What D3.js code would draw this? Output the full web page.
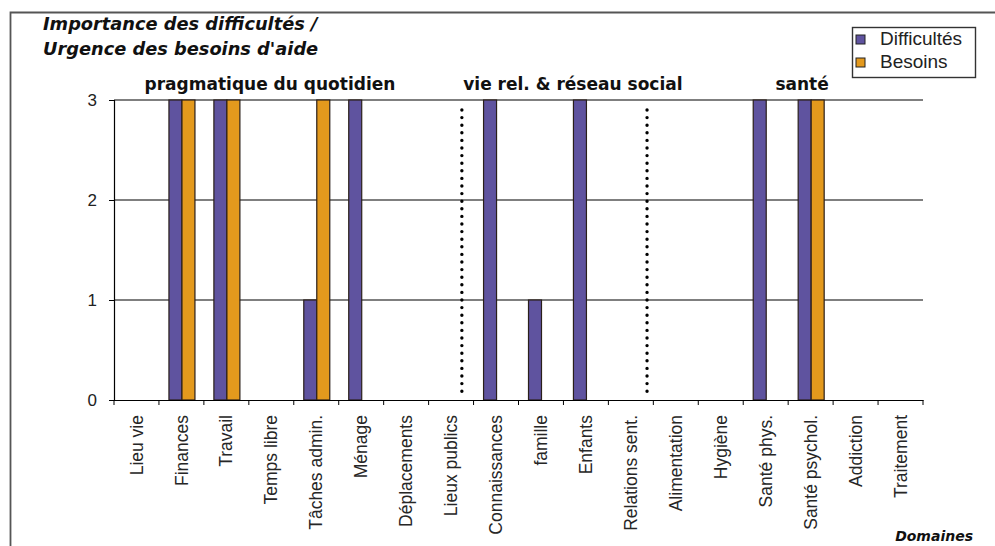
<!DOCTYPE html>
<html><head><meta charset="utf-8">
<script src="https://cdn.jsdelivr.net/npm/d3@7"></script>
<style>body{margin:0;background:#fff}svg{display:block}</style>
</head><body><svg id="c" width="995" height="546"></svg>
<script>
const categories = ["Lieu vie","Finances","Travail","Temps libre","Tâches admin.","Ménage","Déplacements","Lieux publics","Connaissances","famille","Enfants","Relations sent.","Alimentation","Hygiène","Santé phys.","Santé psychol.","Addiction","Traitement"];
const difficultes = [0,3,3,0,1,3,0,0,3,1,3,0,0,0,3,3,0,0];
const besoins     = [0,3,3,0,3,0,0,0,0,0,0,0,0,0,0,3,0,0];
const seriesNames = ["Difficultés","Besoins"];
const seriesColors = ["#5f539f","#e3991d"];
const yTicks = [0,1,2,3];
const groupLabels = ["pragmatique du quotidien","vie rel. & réseau social","santé"];
const groupLabelPos = [3.47,10.21,15.31];
const separators = [7.74,11.86];

const svg = d3.select("#c");
const L=114,R=923,T=100,B=400;
const x = d3.scaleBand().domain(categories).range([L,R]).paddingInner(0).paddingOuter(0);
const xs = d3.scaleLinear().domain([0,categories.length]).range([L,R]);
const y = d3.scaleLinear().domain([0,3]).range([B,T]);
const barW = 13, off = 10;
const sans = "Liberation Sans, Arial, Helvetica";
const tf = "DejaVu Sans, Verdana";

// frame
svg.append("path").attr("d","M10.5,546 V12.5 H995").attr("fill","none").attr("stroke","#555").attr("stroke-width",1.8);

// gridlines
svg.append("g").selectAll("line").data(yTicks.filter(d=>d>0)).join("line")
  .attr("x1",L).attr("x2",R).attr("y1",d=>y(d)).attr("y2",d=>y(d)).attr("stroke","#000").attr("stroke-width",1.2);

// separators
svg.append("g").selectAll("line").data(separators).join("line")
  .attr("x1",d=>xs(d)).attr("x2",d=>xs(d)).attr("y1",110).attr("y2",397)
  .attr("stroke","#000").attr("stroke-width",3.4).attr("stroke-linecap","round").attr("stroke-dasharray","0,7.6");

// bars
const series=[difficultes,besoins];
series.forEach((vals,si)=>{
  svg.append("g").selectAll("rect").data(categories.map((c,i)=>({c,v:vals[i]})).filter(d=>d.v>0)).join("rect")
    .attr("x",d=>x(d.c)+off+si*barW).attr("y",d=>y(d.v)).attr("width",barW).attr("height",d=>y(0)-y(d.v))
    .attr("fill",seriesColors[si]).attr("stroke","#2a1f1a").attr("stroke-width",1.2);
});

// y axis
const ya = svg.append("g").attr("transform",`translate(${L},0)`).call(d3.axisLeft(y).tickValues(yTicks).tickFormat(d3.format("d")).tickSize(5).tickPadding(12));
ya.select(".domain").attr("stroke","#000").attr("stroke-width",1.2);
ya.selectAll("text").attr("font-family",sans).attr("font-size",17).attr("fill","#222");

// x axis
const xa = svg.append("g").attr("transform",`translate(0,${B})`).call(d3.axisBottom(x).tickSize(0));
xa.select(".domain").attr("stroke","#000").attr("stroke-width",1.2);
xa.selectAll("text").attr("font-family",sans).attr("font-size",17.5).attr("fill","#262626")
  .attr("transform","rotate(-90)").attr("text-anchor","end").attr("dy","0.35em").attr("x",-15).attr("y",0);
svg.append("g").selectAll("line").data(d3.range(categories.length+1)).join("line")
  .attr("x1",d=>xs(d)).attr("x2",d=>xs(d)).attr("y1",B).attr("y2",B+5).attr("stroke","#000");

// titles
svg.append("text").attr("x",43).attr("y",30).text("Importance des difficultés /").attr("font-family",tf).attr("font-weight","bold").attr("font-style","italic").attr("font-size",17.8).attr("fill","#111");
svg.append("text").attr("x",43).attr("y",55).text("Urgence des besoins d'aide").attr("font-family",tf).attr("font-weight","bold").attr("font-style","italic").attr("font-size",17.8).attr("fill","#111");
svg.append("g").selectAll("text").data(groupLabels).join("text")
  .attr("x",(d,i)=>xs(groupLabelPos[i])).attr("y",90).attr("text-anchor","middle").text(d=>d)
  .attr("font-family",tf).attr("font-weight","bold").attr("font-size",17).attr("fill","#111");
svg.append("text").attr("x",973).attr("y",541).attr("text-anchor","end").text("Domaines").attr("font-family",tf).attr("font-weight","bold").attr("font-style","italic").attr("font-size",14).attr("fill","#111");

// legend
const lg = svg.append("g").attr("transform","translate(852,27)");
lg.append("rect").attr("x",0.5).attr("y",0.5).attr("width",123).attr("height",50).attr("fill","#fff").attr("stroke","#333").attr("stroke-width",1.4);
seriesNames.forEach((n,i)=>{
  lg.append("rect").attr("x",4).attr("y",8+i*23).attr("width",9).attr("height",9).attr("fill",seriesColors[i]).attr("stroke","#222");
  lg.append("text").attr("x",28).attr("y",18+i*23).text(n).attr("font-family",sans).attr("font-size",19).attr("fill","#222");
});
</script></body></html>
